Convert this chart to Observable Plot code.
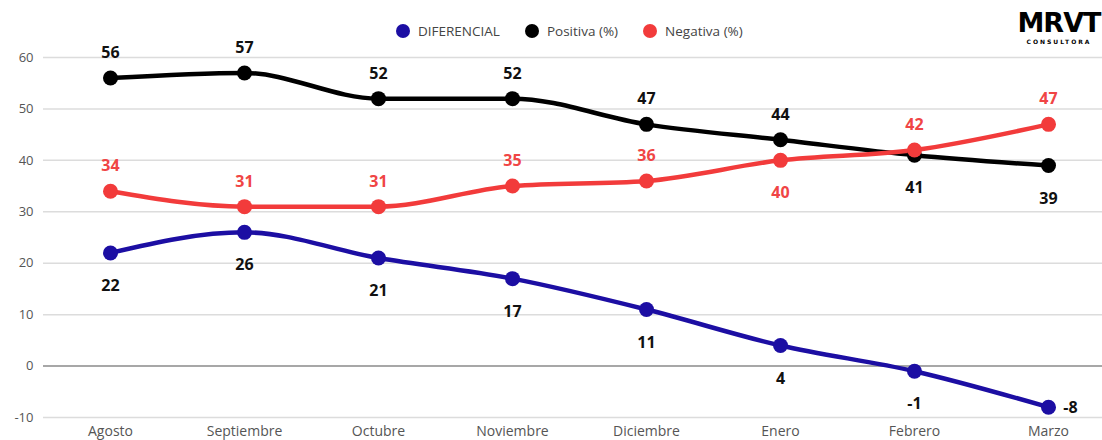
<!DOCTYPE html>
<html>
<head>
<meta charset="utf-8">
<script src="https://cdn.jsdelivr.net/npm/d3@7"></script>
<script src="https://cdn.jsdelivr.net/npm/@observablehq/plot@0.6"></script>
<style>
  html, body { margin: 0; padding: 0; background: #fff; }
  #wrap { position: relative; width: 1102px; height: 440px; font-family: "Open Sans", sans-serif; }
  #legend { position: absolute; top: 22px; left: 396px; display: flex; align-items: center; font-size: 13.5px; color: #444; }
  #legend .item { display: flex; align-items: center; margin-right: 25px; }
  #legend .sw { width: 14px; height: 14px; border-radius: 50%; margin-right: 8px; display: inline-block; }
  #logo { position: absolute; top: 9px; left: 1016px; width: 86px; text-align: center; color: #000; }
  #logo .big { font-family: "DejaVu Sans", sans-serif; font-weight: 900; font-size: 27px; letter-spacing: -1px; line-height: 28px; }
  #logo .small { font-family: "DejaVu Sans", sans-serif; font-weight: bold; font-size: 6px; letter-spacing: 2px; line-height: 7px; margin-top: 1px; }
  #chart { position: absolute; top: 0; left: 0; }
</style>
</head>
<body>
<div id="wrap">
  <div id="chart"></div>
  <div id="legend"></div>
  <div id="logo"><div class="big">MRVT</div><div class="small">CONSULTORA</div></div>
</div>
<script>
const months = ["Agosto","Septiembre","Octubre","Noviembre","Diciembre","Enero","Febrero","Marzo"];
const diferencial = [22, 26, 21, 17, 11, 4, -1, -8];
const positiva = [56, 57, 52, 52, 47, 44, 41, 39];
const negativa = [34, 31, 31, 35, 36, 40, 42, 47];
const seriesNames = ["DIFERENCIAL", "Positiva (%)", "Negativa (%)"];
const seriesColors = ["#1c0ea3", "#000000", "#f23b3b"];
const labelColors = ["#111111", "#111111", "#f04545"];
const yTicks = [-10, 0, 10, 20, 30, 40, 50, 60];

const seriesValues = [diferencial, positiva, negativa];
const rows = [];
seriesNames.forEach((s, si) => {
  seriesValues[si].forEach((v, i) => {
    let side;
    const p = positiva[i], n = negativa[i];
    if (si === 0) side = (i === months.length - 1) ? "right" : "below";
    else if (si === 1) side = p >= n ? "above" : "below";
    else side = (p > n && p - n <= 5) ? "below" : "above";
    rows.push({serie: s, si, month: months[i], value: v, side});
  });
});

const W = 1102, H = 440;
const textBase = {x: "month", y: "value", text: d => String(d.value), fontSize: 16, fontWeight: "bold", fontFamily: "Open Sans"};

const chart = Plot.plot({
  width: W,
  height: H,
  marginLeft: 43,
  marginRight: 0,
  marginTop: 57,
  marginBottom: 23,
  style: {fontFamily: "Open Sans", background: "transparent"},
  x: {type: "point", domain: months, range: [110, 1048], padding: 0, label: null},
  y: {domain: [-10, 60], label: null, ticks: yTicks},
  color: {domain: seriesNames, range: seriesColors},
  marks: [
    Plot.ruleY(yTicks.filter(t => t !== 0), {stroke: "#dcdcdc", strokeWidth: 1.5}),
    Plot.ruleY([0], {stroke: "#8a8a8a", strokeWidth: 1.5}),
    Plot.axisY({ticks: yTicks, tickSize: 0, tickPadding: 10, fontSize: 13, fill: "#555", tickFormat: d => String(d)}),
    Plot.axisX({tickSize: 0, tickPadding: 9, fontSize: 14, fill: "#555"}),
    Plot.line(rows, {x: "month", y: "value", z: "serie", stroke: "serie", strokeWidth: 4.5, curve: "monotone-x"}),
    Plot.dot(rows, {x: "month", y: "value", fill: "serie", r: 7.5}),
    Plot.text(rows.filter(d => d.side === "above"), {...textBase, dy: -25, fill: d => labelColors[d.si]}),
    Plot.text(rows.filter(d => d.side === "below"), {...textBase, dy: 33, fill: d => labelColors[d.si]}),
    Plot.text(rows.filter(d => d.side === "right"), {...textBase, dx: 22, dy: 1, fill: d => labelColors[d.si]})
  ]
});
document.getElementById("chart").appendChild(chart);

const legend = document.getElementById("legend");
seriesNames.forEach((s, i) => {
  const item = document.createElement("div");
  item.className = "item";
  const sw = document.createElement("span");
  sw.className = "sw";
  sw.style.background = seriesColors[i];
  const t = document.createElement("span");
  t.textContent = s;
  item.appendChild(sw);
  item.appendChild(t);
  legend.appendChild(item);
});
</script>
</body>
</html>
